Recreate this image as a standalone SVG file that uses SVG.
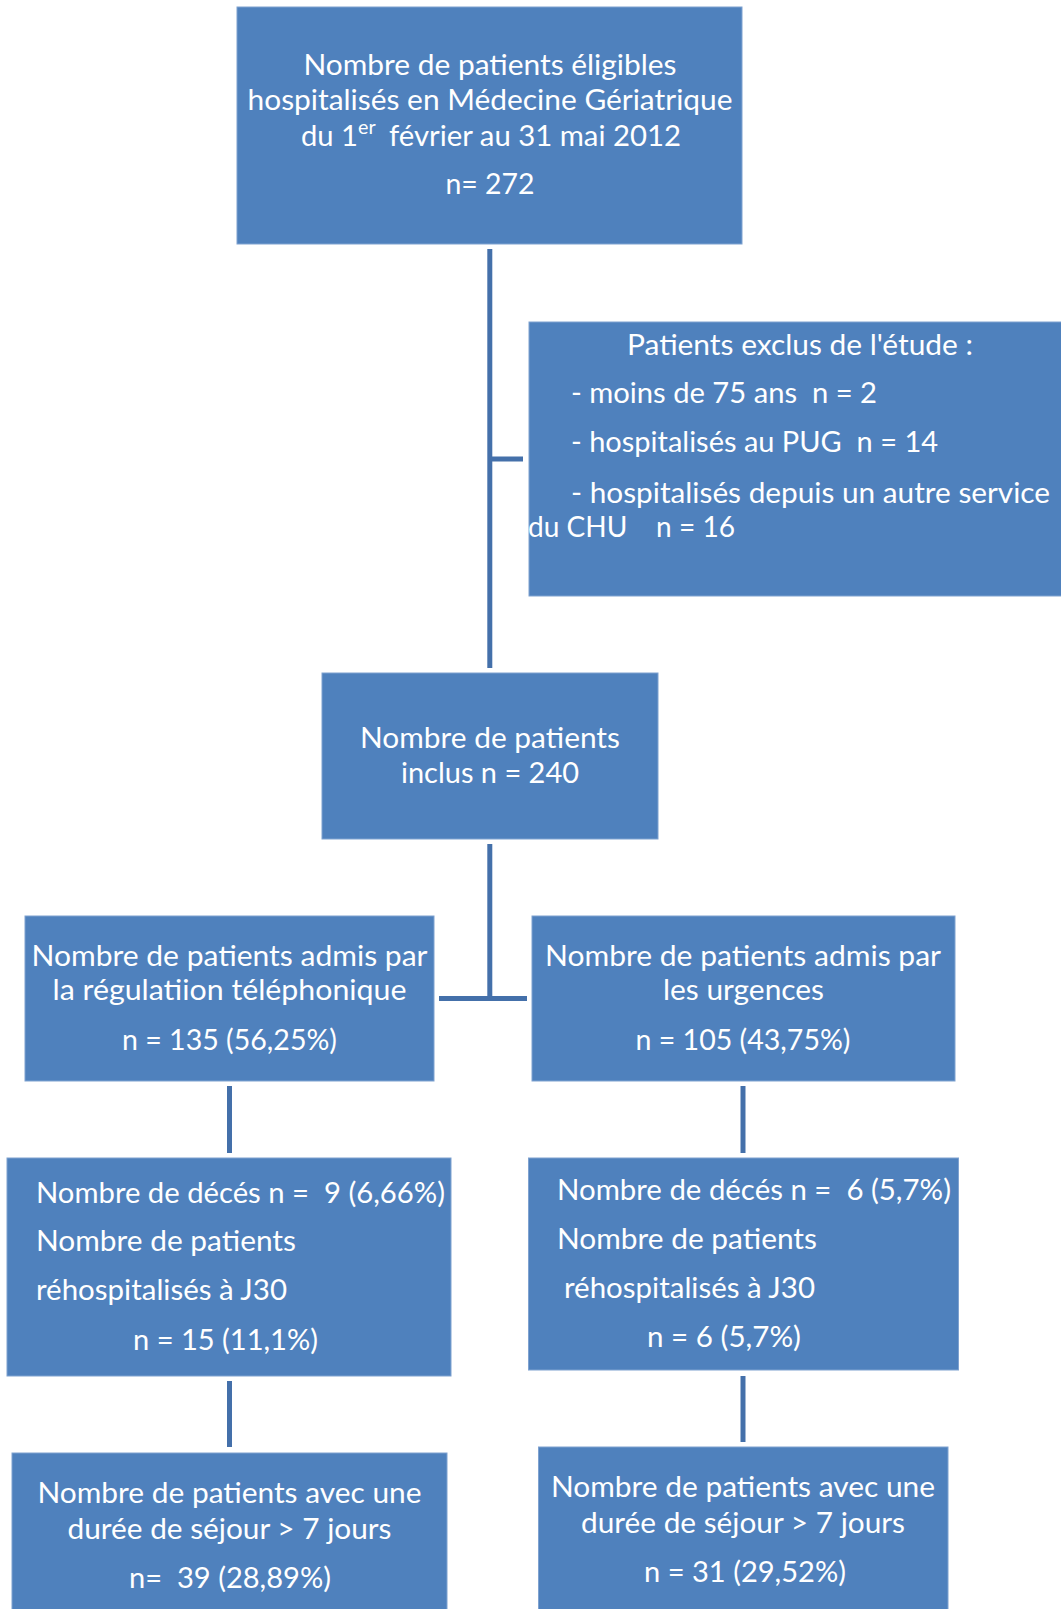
<svg xmlns="http://www.w3.org/2000/svg" width="1061" height="1609" viewBox="0 0 1061 1609" xml:space="preserve">
<style>
.box{fill:#4F81BD;stroke:#7FA2D0;stroke-width:1}
.t{font-family:Lato,"Open Sans","Liberation Sans",sans-serif;font-size:29px;fill:#FFFFFF;white-space:pre}
.m{text-anchor:middle}
.sup{font-family:Lato,"Open Sans","Liberation Sans",sans-serif;font-size:19px;fill:#FFFFFF}
.c{stroke:#4470AA;stroke-width:5;fill:none}
</style>
<rect width="1061" height="1609" fill="#FFFFFF"/>
<g id="connectors">
<line class="c" x1="489.8" y1="249" x2="489.8" y2="668"/>
<line class="c" x1="489" y1="459" x2="523" y2="459"/>
<line class="c" x1="489.8" y1="844" x2="489.8" y2="998"/>
<line class="c" x1="439" y1="998.5" x2="527" y2="998.5"/>
<line class="c" x1="229.5" y1="1086" x2="229.5" y2="1153"/>
<line class="c" x1="743" y1="1086" x2="743" y2="1153"/>
<line class="c" x1="229.5" y1="1381" x2="229.5" y2="1447"/>
<line class="c" x1="743" y1="1376" x2="743" y2="1442"/>
</g>
<g id="node-eligibles">
<rect class="box" x="237" y="7" width="505" height="237"/>
<text class="t m" x="490" y="75" textLength="373" lengthAdjust="spacingAndGlyphs">Nombre de patients éligibles</text>
<text class="t m" x="490" y="110" textLength="485" lengthAdjust="spacingAndGlyphs">hospitalisés en Médecine Gériatrique</text>
<text class="t" x="301" y="146" textLength="57" lengthAdjust="spacingAndGlyphs">du 1</text>
<text class="sup" x="358" y="134" textLength="17.6" lengthAdjust="spacingAndGlyphs">er</text>
<text class="t" x="389" y="146" textLength="292" lengthAdjust="spacingAndGlyphs">février au 31 mai 2012</text>
<text class="t m" x="490" y="194" textLength="89" lengthAdjust="spacingAndGlyphs">n= 272</text>
</g>
<g id="node-exclus">
<rect class="box" x="529" y="322" width="540" height="274"/>
<text class="t" x="627" y="355" textLength="346" lengthAdjust="spacingAndGlyphs">Patients exclus de l'étude :</text>
<text class="t" x="571" y="403" textLength="306" lengthAdjust="spacingAndGlyphs">- moins de 75 ans  n = 2</text>
<text class="t" x="571" y="452" textLength="367" lengthAdjust="spacingAndGlyphs">- hospitalisés au PUG  n = 14</text>
<text class="t" x="571" y="503" textLength="479" lengthAdjust="spacingAndGlyphs">- hospitalisés depuis un autre service</text>
<text class="t" x="528" y="537" textLength="207" lengthAdjust="spacingAndGlyphs">du CHU    n = 16</text>
</g>
<g id="node-inclus">
<rect class="box" x="322" y="673" width="336" height="166"/>
<text class="t m" x="490" y="748" textLength="260" lengthAdjust="spacingAndGlyphs">Nombre de patients</text>
<text class="t m" x="490" y="783" textLength="178" lengthAdjust="spacingAndGlyphs">inclus n = 240</text>
</g>
<g id="node-regulation">
<rect class="box" x="25" y="916" width="409" height="165"/>
<text class="t m" x="229.5" y="966" textLength="396" lengthAdjust="spacingAndGlyphs">Nombre de patients admis par</text>
<text class="t m" x="229.5" y="1000" textLength="354" lengthAdjust="spacingAndGlyphs">la régulatiion téléphonique</text>
<text class="t m" x="229.5" y="1050" textLength="215" lengthAdjust="spacingAndGlyphs">n = 135 (56,25%)</text>
</g>
<g id="node-urgences">
<rect class="box" x="532" y="916" width="423" height="165"/>
<text class="t m" x="743" y="966" textLength="396" lengthAdjust="spacingAndGlyphs">Nombre de patients admis par</text>
<text class="t m" x="743.5" y="1000" textLength="161" lengthAdjust="spacingAndGlyphs">les urgences</text>
<text class="t m" x="743" y="1050" textLength="215" lengthAdjust="spacingAndGlyphs">n = 105 (43,75%)</text>
</g>
<g id="node-deces-regulation">
<rect class="box" x="7" y="1158" width="444" height="218"/>
<text class="t" x="36" y="1203" textLength="409" lengthAdjust="spacingAndGlyphs">Nombre de décés n =  9 (6,66%)</text>
<text class="t" x="36" y="1251" textLength="260" lengthAdjust="spacingAndGlyphs">Nombre de patients</text>
<text class="t" x="36" y="1300" textLength="251" lengthAdjust="spacingAndGlyphs">réhospitalisés à J30</text>
<text class="t" x="133" y="1350" textLength="185" lengthAdjust="spacingAndGlyphs">n = 15 (11,1%)</text>
</g>
<g id="node-deces-urgences">
<rect class="box" x="528.5" y="1158" width="430" height="212"/>
<text class="t" x="557" y="1200" textLength="394" lengthAdjust="spacingAndGlyphs">Nombre de décés n =  6 (5,7%)</text>
<text class="t" x="557" y="1249" textLength="260" lengthAdjust="spacingAndGlyphs">Nombre de patients</text>
<text class="t" x="564" y="1298" textLength="251" lengthAdjust="spacingAndGlyphs">réhospitalisés à J30</text>
<text class="t" x="647" y="1347" textLength="154" lengthAdjust="spacingAndGlyphs">n = 6 (5,7%)</text>
</g>
<g id="node-sejour-regulation">
<rect class="box" x="12" y="1453" width="435" height="170"/>
<text class="t m" x="229.5" y="1503" textLength="384" lengthAdjust="spacingAndGlyphs">Nombre de patients avec une</text>
<text class="t m" x="229.5" y="1539" textLength="324" lengthAdjust="spacingAndGlyphs">durée de séjour &gt; 7 jours</text>
<text class="t m" x="230" y="1588" textLength="202" lengthAdjust="spacingAndGlyphs">n=  39 (28,89%)</text>
</g>
<g id="node-sejour-urgences">
<rect class="box" x="538.5" y="1447" width="409.5" height="175"/>
<text class="t m" x="743" y="1497" textLength="384" lengthAdjust="spacingAndGlyphs">Nombre de patients avec une</text>
<text class="t m" x="743" y="1533" textLength="324" lengthAdjust="spacingAndGlyphs">durée de séjour &gt; 7 jours</text>
<text class="t m" x="745" y="1582" textLength="202" lengthAdjust="spacingAndGlyphs">n = 31 (29,52%)</text>
</g>
</svg>
